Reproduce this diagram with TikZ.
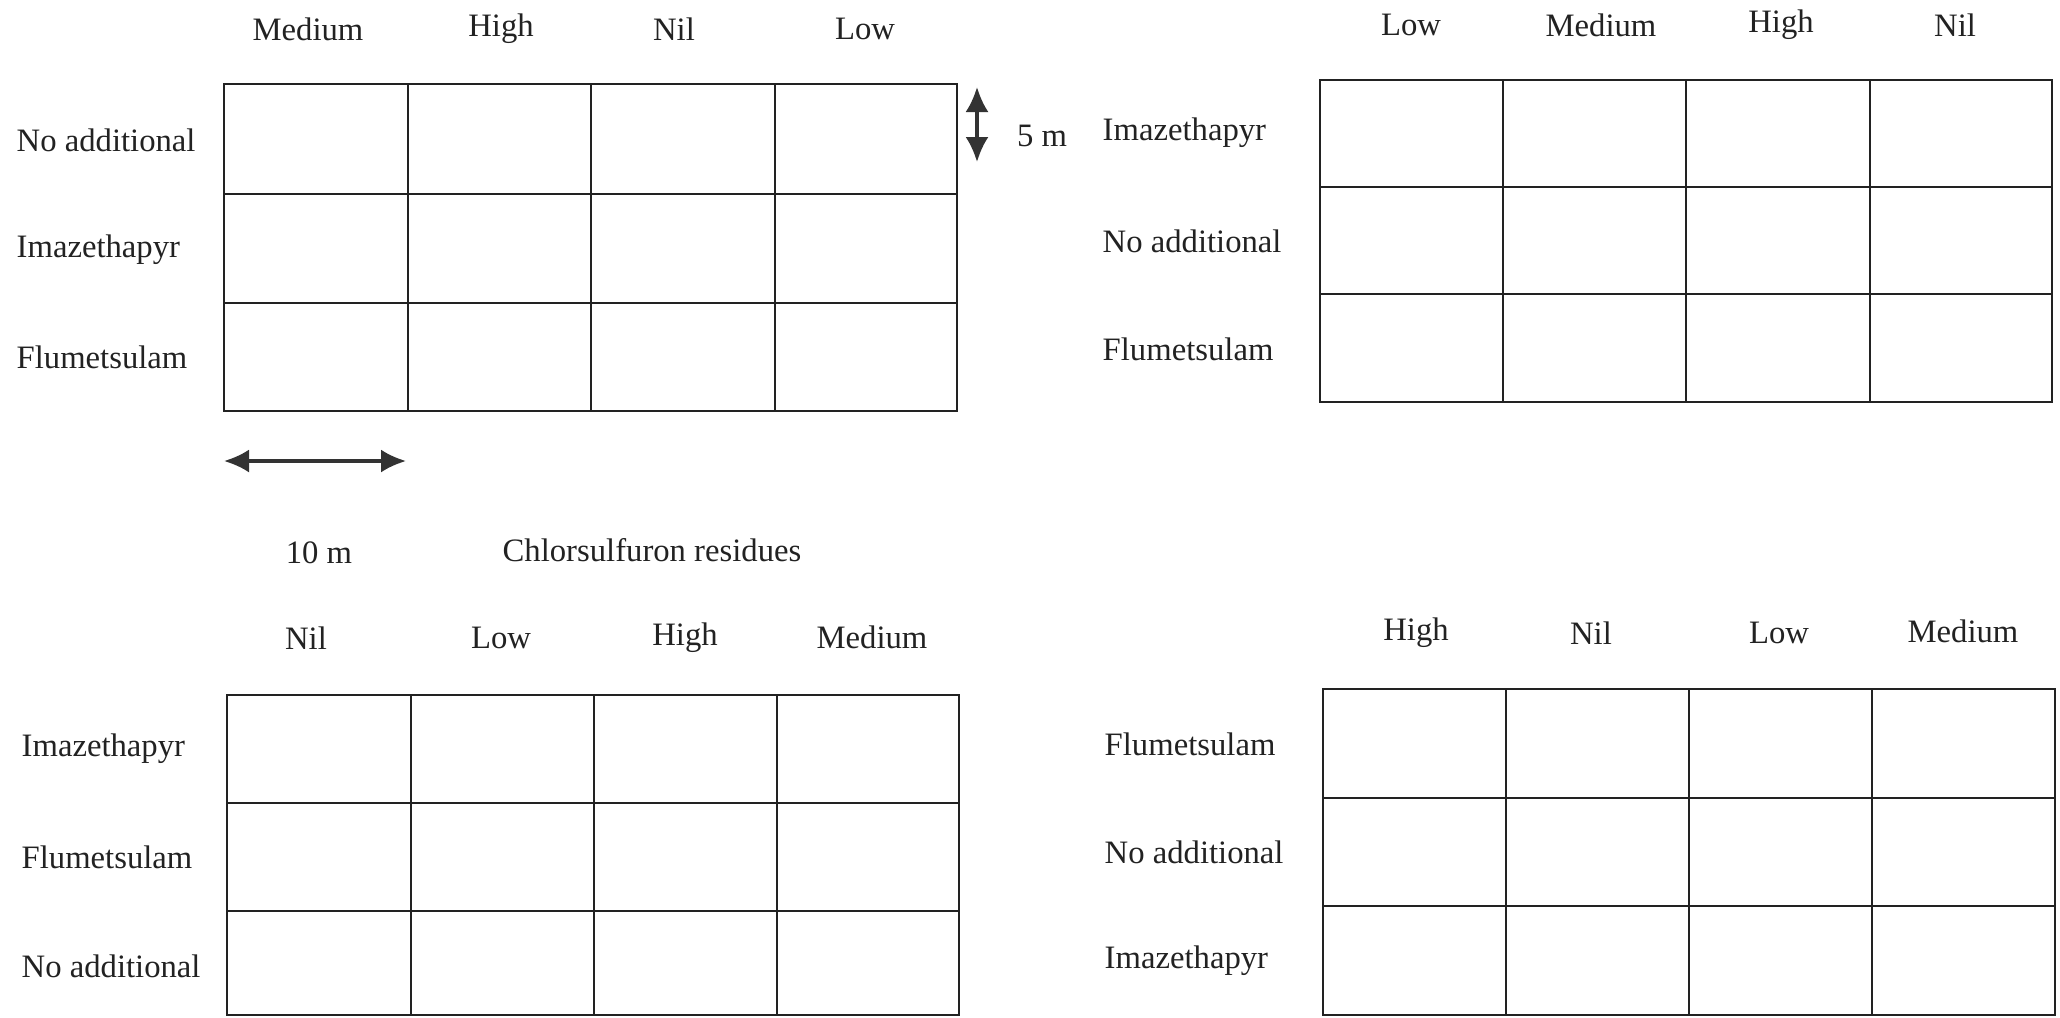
\documentclass[tikz,border=0pt]{standalone}
\usepackage{fontspec}
\setmainfont{Liberation Serif}
\usepackage{xcolor}
\usepackage{tikz}
\usetikzlibrary{arrows.meta}
\definecolor{Ink}{HTML}{222222}
\definecolor{Bar}{HTML}{333333}

\begin{document}
\begin{tikzpicture}[x=0.1mm,y=-0.1mm,
    lbl/.style={inner sep=0pt,font=\fontsize{9.3}{11}\selectfont,text=Ink},
    rowlbl/.style={lbl,anchor=west},
    plotline/.style={line width=0.55pt,color=Ink},
    scalebar/.style={{Latex[length=2.5mm,width=2.3mm]}-{Latex[length=2.5mm,width=2.3mm]},line width=0.9pt,color=Bar}]
  \useasboundingbox (0,0) rectangle (2060,1017);

  % plot 1 (top left)
  \draw[plotline] (224,84) rectangle (957,411)
    (408,84) -- (408,411) (591,84) -- (591,411) (775,84) -- (775,411)
    (224,194) -- (957,194) (224,303) -- (957,303);
  \node[lbl] (p1med) at (308,29) {Medium};
  \node[lbl] (p1high) at (501,29) {High};
  \node[lbl] (p1nil) at (674,29) {Nil};
  \node[lbl] (p1low) at (865,29) {Low};
  \node[rowlbl] (p1none) at (16,140) {No additional};
  \node[rowlbl] (p1ima) at (16,250) {Imazethapyr};
  \node[rowlbl] (p1flu) at (16,357) {Flumetsulam};

  % plot 2 (top right)
  \draw[plotline] (1320,80) rectangle (2052,402)
    (1503,80) -- (1503,402) (1686,80) -- (1686,402) (1870,80) -- (1870,402)
    (1320,187) -- (2052,187) (1320,294) -- (2052,294);
  \node[lbl] (p2low) at (1411,25) {Low};
  \node[lbl] (p2med) at (1601,25) {Medium};
  \node[lbl] (p2high) at (1781,25) {High};
  \node[lbl] (p2nil) at (1955,25) {Nil};
  \node[rowlbl] (p2ima) at (1102,133) {Imazethapyr};
  \node[rowlbl] (p2none) at (1102,241) {No additional};
  \node[rowlbl] (p2flu) at (1102,349) {Flumetsulam};

  % plot 3 (bottom left)
  \draw[plotline] (227,695) rectangle (959,1015)
    (411,695) -- (411,1015) (594,695) -- (594,1015) (777,695) -- (777,1015)
    (227,803) -- (959,803) (227,911) -- (959,911);
  \node[lbl] (p3nil) at (306,638) {Nil};
  \node[lbl] (p3low) at (501,638) {Low};
  \node[lbl] (p3high) at (685,638) {High};
  \node[lbl] (p3med) at (872,637) {Medium};
  \node[rowlbl] (p3ima) at (21,749) {Imazethapyr};
  \node[rowlbl] (p3flu) at (21,857) {Flumetsulam};
  \node[rowlbl] (p3none) at (21,966) {No additional};

  % plot 4 (bottom right)
  \draw[plotline] (1323,689) rectangle (2055,1015)
    (1506,689) -- (1506,1015) (1689,689) -- (1689,1015) (1872,689) -- (1872,1015)
    (1323,798) -- (2055,798) (1323,906) -- (2055,906);
  \node[lbl] (p4high) at (1416,633) {High};
  \node[lbl] (p4nil) at (1591,633) {Nil};
  \node[lbl] (p4low) at (1779,633) {Low};
  \node[lbl] (p4med) at (1963,631) {Medium};
  \node[rowlbl] (p4flu) at (1104,744) {Flumetsulam};
  \node[rowlbl] (p4none) at (1104,852) {No additional};
  \node[rowlbl] (p4ima) at (1104,961) {Imazethapyr};

  % scale bars
  \coordinate (v5top) at (977,87);
  \coordinate (v5bot) at (977,162);
  \draw[scalebar] (v5top) -- (v5bot);
  \node[lbl] (five) at (1042,136) {5 m};
  \coordinate (h10l) at (224,461);
  \coordinate (h10r) at (406,461);
  \draw[scalebar] (h10l) -- (h10r);
  \node[lbl] (ten) at (319,553) {10 m};
  \node[lbl] (resid) at (652,550) {Chlorsulfuron residues};
\end{tikzpicture}
\end{document}
